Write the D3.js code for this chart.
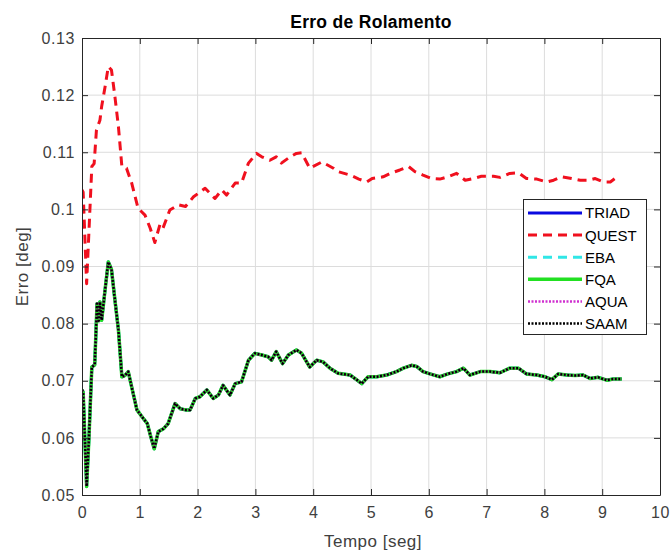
<!DOCTYPE html>
<html>
<head>
<meta charset="utf-8">
<script src="https://cdn.jsdelivr.net/npm/d3@7"></script>
<style>
  html, body { margin: 0; padding: 0; background: #fff; }
  svg { display: block; font-family: "Liberation Sans", Arial, Helvetica, sans-serif; }
</style>
</head>
<body>
<svg id="chart" width="671" height="551"></svg>
<script>
// Roll attitude error of each estimation algorithm over time
const timeCommon = [0.00, 0.02, 0.08, 0.12, 0.17, 0.22, 0.26, 0.29, 0.31, 0.34, 0.40, 0.455, 0.51, 0.57, 0.63, 0.69, 0.74, 0.80, 0.86, 0.95, 1.06, 1.13, 1.19, 1.25, 1.32, 1.41, 1.49, 1.61, 1.70, 1.79, 1.87, 1.96, 2.04, 2.16, 2.27, 2.36, 2.44, 2.56, 2.65, 2.76, 2.88, 2.99, 3.11, 3.22, 3.28, 3.36, 3.47, 3.57, 3.71, 3.80, 3.94, 4.06, 4.17, 4.29, 4.43, 4.64, 4.72, 4.84, 4.95, 5.10, 5.27, 5.44, 5.56, 5.70, 5.79, 5.90, 6.02, 6.19, 6.33, 6.48, 6.60, 6.71, 6.89, 7.06, 7.23, 7.40, 7.55, 7.69, 7.87, 8.01, 8.13, 8.24, 8.39, 8.53, 8.67, 8.79, 8.93, 9.08, 9.19, 9.34];
const errCommon = [0.0684, 0.0680, 0.0515, 0.0600, 0.0724, 0.0728, 0.0835, 0.0805, 0.0838, 0.0806, 0.0860, 0.0908, 0.0895, 0.0841, 0.0789, 0.0707, 0.0709, 0.0716, 0.0689, 0.0649, 0.0634, 0.0625, 0.0602, 0.0581, 0.0611, 0.0616, 0.0625, 0.0660, 0.0651, 0.0649, 0.0649, 0.0669, 0.0672, 0.0684, 0.0669, 0.0675, 0.0692, 0.0675, 0.0695, 0.0698, 0.0736, 0.0748, 0.0745, 0.0742, 0.0736, 0.0751, 0.0730, 0.0745, 0.0754, 0.0748, 0.0724, 0.0736, 0.0733, 0.0722, 0.0713, 0.0710, 0.0704, 0.0695, 0.0707, 0.0707, 0.0710, 0.0716, 0.0722, 0.0727, 0.0725, 0.0716, 0.0712, 0.0707, 0.0712, 0.0716, 0.0722, 0.0710, 0.0716, 0.0716, 0.0714, 0.0722, 0.0722, 0.0712, 0.0710, 0.0707, 0.0702, 0.0712, 0.0710, 0.0709, 0.0710, 0.0704, 0.0706, 0.0701, 0.0703, 0.0703];

const timeQuest = [0.00, 0.02, 0.08, 0.17, 0.21, 0.25, 0.31, 0.34, 0.40, 0.455, 0.51, 0.57, 0.63, 0.69, 0.77, 0.86, 0.97, 1.09, 1.18, 1.26, 1.35, 1.40, 1.52, 1.67, 1.79, 1.93, 2.13, 2.30, 2.42, 2.50, 2.65, 2.76, 2.88, 3.02, 3.11, 3.25, 3.36, 3.45, 3.60, 3.71, 3.80, 3.94, 4.15, 4.35, 4.43, 4.64, 4.79, 4.93, 5.02, 5.21, 5.33, 5.50, 5.65, 5.76, 5.90, 6.05, 6.19, 6.33, 6.48, 6.63, 6.77, 6.91, 7.12, 7.23, 7.40, 7.55, 7.69, 7.87, 8.04, 8.16, 8.30, 8.47, 8.62, 8.76, 8.88, 9.02, 9.14, 9.22];
const errQuest = [0.1034, 0.1030, 0.0870, 0.1075, 0.1080, 0.1139, 0.1156, 0.1180, 0.1215, 0.1250, 0.1244, 0.1197, 0.1145, 0.1075, 0.1072, 0.1046, 0.1002, 0.0990, 0.0967, 0.0942, 0.0974, 0.0967, 0.0999, 0.1008, 0.1005, 0.1022, 0.1037, 0.1019, 0.1034, 0.1025, 0.1046, 0.1046, 0.1081, 0.1098, 0.1092, 0.1086, 0.1092, 0.1081, 0.1092, 0.1098, 0.1099, 0.1072, 0.1083, 0.1072, 0.1066, 0.1060, 0.1053, 0.1048, 0.1054, 0.1057, 0.1063, 0.1069, 0.1075, 0.1066, 0.1060, 0.1054, 0.1053, 0.1057, 0.1063, 0.1051, 0.1054, 0.1058, 0.1058, 0.1056, 0.1063, 0.1064, 0.1054, 0.1053, 0.1048, 0.1051, 0.1057, 0.1054, 0.1051, 0.1051, 0.1054, 0.1048, 0.1048, 0.1054];

const seriesNames = ["TRIAD", "QUEST", "EBA", "FQA", "AQUA", "SAAM"];
const xTicks = [0, 1, 2, 3, 4, 5, 6, 7, 8, 9, 10];
const yTicks = [0.05, 0.06, 0.07, 0.08, 0.09, 0.10, 0.11, 0.12, 0.13];

const titleText = "Erro de Rolamento";
const xLabelText = "Tempo [seg]";
const yLabelText = "Erro [deg]";

// Line styles per method (drawn in this order, later ones on top)
const styles = {
  TRIAD: { color: "#0a0ae0", width: 3,   dash: null },
  QUEST: { color: "#f0101e", width: 3,   dash: "9,6" },
  EBA:   { color: "#30e6e6", width: 3,   dash: "9,6" },
  FQA:   { color: "#22e022", width: 3.5, dash: null },
  AQUA:  { color: "#d030d0", width: 2.5, dash: "2,1.5" },
  SAAM:  { color: "#000000", width: 2.5, dash: "2,1.5" }
};

const seriesData = {
  TRIAD: timeCommon.map((t, i) => [t, errCommon[i]]),
  QUEST: timeQuest.map((t, i) => [t, errQuest[i]]),
  EBA:   timeCommon.map((t, i) => [t, errCommon[i]]),
  FQA:   timeCommon.map((t, i) => [t, errCommon[i]]),
  AQUA:  timeCommon.map((t, i) => [t, errCommon[i]]),
  SAAM:  timeCommon.map((t, i) => [t, errCommon[i]])
};

const svg = d3.select("#chart");
const plot = { left: 82, top: 38, right: 660, bottom: 495 };
const axisColor = "#262626";

const x = d3.scaleLinear().domain([0, 10]).range([plot.left, plot.right]);
const y = d3.scaleLinear().domain([0.05, 0.13]).range([plot.bottom, plot.top]);

// Grid
const grid = svg.append("g");
grid.selectAll("line.vx").data(xTicks.slice(1, -1)).join("line")
  .attr("x1", d => x(d)).attr("x2", d => x(d))
  .attr("y1", plot.top).attr("y2", plot.bottom)
  .attr("stroke", "#dcdcdc").attr("stroke-width", 1);
grid.selectAll("line.hy").data(yTicks.slice(1, -1)).join("line")
  .attr("x1", plot.left).attr("x2", plot.right)
  .attr("y1", d => y(d)).attr("y2", d => y(d))
  .attr("stroke", "#dcdcdc").attr("stroke-width", 1);

// Series
const line = d3.line().x(d => x(d[0])).y(d => y(d[1]));
svg.append("clipPath").attr("id", "plotClip").append("rect")
  .attr("x", plot.left).attr("y", plot.top)
  .attr("width", plot.right - plot.left).attr("height", plot.bottom - plot.top);
const lines = svg.append("g").attr("clip-path", "url(#plotClip)");
seriesNames.forEach(name => {
  const s = styles[name];
  lines.append("path")
    .datum(seriesData[name])
    .attr("d", line)
    .attr("fill", "none")
    .attr("stroke", s.color)
    .attr("stroke-width", s.width)
    .attr("stroke-linejoin", "round")
    .attr("stroke-dasharray", s.dash);
});

// Axes (box with inward ticks on all four sides)
const tickLen = 6;
const fmtY = d => d3.format(".2f")(d).replace(/0$/, "").replace(/\.$/, "");
const xAxisB = d3.axisBottom(x).tickValues(xTicks).tickSizeInner(-tickLen).tickSizeOuter(0).tickPadding(12).tickFormat(d3.format("d"));
const xAxisT = d3.axisTop(x).tickValues(xTicks).tickSizeInner(-tickLen).tickSizeOuter(0).tickFormat("");
const yAxisL = d3.axisLeft(y).tickValues(yTicks).tickSizeInner(-tickLen).tickSizeOuter(0).tickPadding(7).tickFormat(fmtY);
const yAxisR = d3.axisRight(y).tickValues(yTicks).tickSizeInner(-tickLen).tickSizeOuter(0).tickFormat("");

function styleAxis(g) {
  g.selectAll("path.domain").attr("stroke", axisColor).attr("stroke-width", 1);
  g.selectAll(".tick line").attr("stroke", axisColor).attr("stroke-width", 1);
  g.selectAll(".tick text").attr("fill", "#404040").style("font-size", "16px")
    .style("letter-spacing", "0.6px")
    .style("font-family", "'Liberation Sans', Arial, sans-serif");
}
svg.append("g").attr("transform", `translate(0,${plot.bottom})`).call(xAxisB).call(styleAxis);
svg.append("g").attr("transform", `translate(0,${plot.top})`).call(xAxisT).call(styleAxis);
svg.append("g").attr("transform", `translate(${plot.left},0)`).call(yAxisL).call(styleAxis);
svg.append("g").attr("transform", `translate(${plot.right},0)`).call(yAxisR).call(styleAxis);

// Title and axis labels
svg.append("text")
  .attr("x", (plot.left + plot.right) / 2).attr("y", 28)
  .attr("text-anchor", "middle")
  .style("font-size", "17.5px").style("font-weight", "bold").style("letter-spacing", "0.3px")
  .attr("fill", "#000")
  .text(titleText);
svg.append("text")
  .attr("x", (plot.left + plot.right) / 2 + 2).attr("y", 547)
  .attr("text-anchor", "middle")
  .style("font-size", "17px").style("letter-spacing", "0.5px").attr("fill", "#404040")
  .text(xLabelText);
svg.append("text")
  .attr("transform", `translate(28,${(plot.top + plot.bottom) / 2}) rotate(-90)`)
  .attr("text-anchor", "middle")
  .style("font-size", "17px").style("letter-spacing", "0.5px").attr("fill", "#404040")
  .text(yLabelText);

// Legend
const legend = svg.append("g");
legend.append("rect")
  .attr("x", 523.5).attr("y", 199.5).attr("width", 123).attr("height", 135)
  .attr("fill", "#fff").attr("stroke", axisColor).attr("stroke-width", 1);
const rowY = d3.scalePoint().domain(seriesNames).range([213, 323.5]);
seriesNames.forEach(name => {
  const s = styles[name];
  const yy = rowY(name);
  legend.append("line")
    .attr("x1", 528).attr("x2", 582).attr("y1", yy).attr("y2", yy)
    .attr("stroke", s.color).attr("stroke-width", s.width)
    .attr("stroke-dasharray", s.dash);
  legend.append("text")
    .attr("x", 585).attr("y", yy).attr("dy", "0.36em")
    .style("font-size", "15px").attr("fill", "#000")
    .text(name);
});
</script>
</body>
</html>
